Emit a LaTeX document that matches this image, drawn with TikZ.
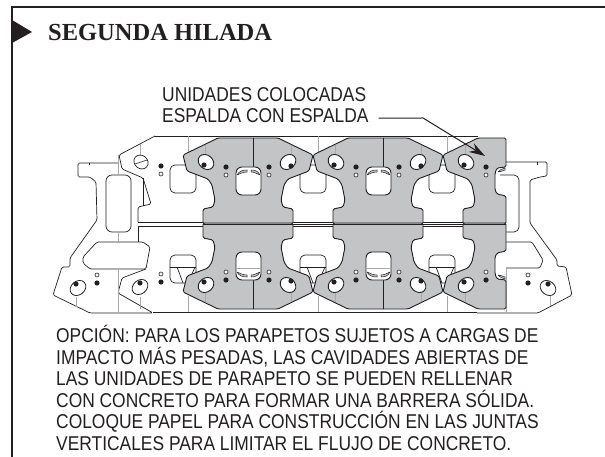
\documentclass[tikz,border=0pt]{standalone}
\usepackage{fontspec}
\setmainfont{Liberation Serif}
\newfontfamily\labelfont[FakeStretch=0.87]{Liberation Sans}
\usetikzlibrary{positioning,arrows.meta}
\definecolor{inkblack}{HTML}{231F20}
\definecolor{unitgray}{HTML}{C3C4C6}
\definecolor{seamgray}{HTML}{A8A9AB}
\tikzset{backline/.style={draw=inkblack,line width=0.7pt,rounded corners=1.5pt},
         seam/.style={draw=seamgray,line width=0.7pt},
         unitline/.style={draw=inkblack,line width=0.9pt,fill=unitgray,rounded corners=1.5pt},
         holeline/.style={draw=inkblack,line width=0.9pt,fill=white},
         labeltext/.style={font=\labelfont\fontsize{20}{20}\selectfont,text=inkblack,inner sep=0pt,text height=14.5pt,text depth=0pt},
         arrow/.style={line width=1pt,draw=inkblack,-{Stealth[length=16pt,width=10pt]}},
         mirrored/.style={yshift=-447pt,yscale=-1}
}
% holes of one half unit, left and right of its axis
\newcommand{\leftholes}{
    \draw[seam] (-43,145)--(-43,155);
    \draw[holeline,rotate around={-40:(-42,162)}] (-42,162) ellipse [x radius=8.5pt,y radius=6.8pt];
    \fill[inkblack] (-44,165) circle (2.6pt);
    \fill[inkblack] (-22,167) circle (2.6pt);
    \draw[holeline,line width=0.6pt] (-22,175) circle (2pt);
}
\newcommand{\rightholes}{
    \draw[seam] (43,145)--(43,155);
    \draw[holeline,rotate around={40:(40,162)}] (40,162) ellipse [x radius=8.5pt,y radius=6.8pt];
    \fill[inkblack] (43,166) circle (2.6pt);
    \fill[inkblack] (21,167) circle (2.6pt);
    \draw[holeline,line width=0.6pt] (21,175) circle (2pt);
}
\newcommand{\grayunit}{
    \draw[unitline] (-45,224)--(-45,209)--(-35,207)--(-33,200)--(-36,185)--(-40,179)--(-61,171)--(-65,155)
      --(-30,138)--(30,138)--(65,155)--(61,171)--(40,179)--(36,185)--(33,200)--(35,207)--(45,209)--(45,224)--cycle;
    \draw[inkblack,line width=0.7pt] (5,138)--(5,168);
    \draw[holeline,rounded corners=6pt] (-12,167) rectangle (13,195);
    \draw[inkblack,line width=0.5pt,fill=unitgray] (-11,175) .. controls (-9,171) and (-5,170) .. (-1,170) -- (-1,172) .. controls (-6,172) and (-8,174) .. (-11,175);
    \draw[inkblack,line width=0.5pt,fill=unitgray] (12,175) .. controls (10,171) and (7,170) .. (3,170) -- (3,172) .. controls (7,172) and (9,174) .. (12,175);
    \leftholes
    \rightholes
}
\newcommand{\lastunit}{
    \draw[unitline] (-45,224)--(-45,209)--(-35,207)--(-33,200)--(-36,185)--(-40,179)--(-61,171)--(-65,155)
      --(-30,138)--(-2,138)--(-2,167)--(-11,168)--(-13,173)--(-13,190)--(-11,194)--(-2,196)--(-2,224)--cycle;
    \draw[inkblack,line width=0.5pt,fill=unitgray] (-10,172) .. controls (-9,170) and (-6,169) .. (-3,168) -- (-3,170) .. controls (-6,171) and (-8,172) .. (-10,172);
    \leftholes
}

\begin{document}
\begin{tikzpicture}[x=1pt,y=-1pt]
\useasboundingbox (0,0) rectangle (605,457);

% frame
\draw[inkblack,line width=2pt] (605,7)--(12,7)--(12,457);
\fill[inkblack] (12,20)--(32,32)--(12,43)--cycle;
\node[font=\fontsize{24.5}{26}\bfseries\selectfont,text=inkblack,anchor=base west,inner sep=0pt] (title) at (48,41) {SEGUNDA HILADA};

% units behind
\draw[backline] (155,136)--(478,136);
\draw[backline] (153,312.5)--(477,312.5);
\draw[backline] (138,222)--(506,222);
\draw[backline] (138,226)--(506,226);
\draw[backline] (155,136)--(119,155)--(122,169)--(143,178)--(151,204)--(138,207)--(138,222);
\draw[backline] (143,178)--(143,206);
\draw[backline] (138,226)--(138,242);
\draw[backline] (119,163)--(78,163)--(78,177)--(90,177)--(96,182)--(97,220)--(70,258)--(70,267)--(62,267)--(53,295)--(90,313)--(153,313)--(118,293)--(122,278)--(146,269);
\draw[backline] (97,242)--(143,242)--(150,247)--(146,269)--(90,269)--(83,263)--(83,257)--cycle;
\draw[backline,rounded corners=6pt] (106,175) rectangle (131,232);
\draw[backline] (506,162)--(547,162)--(547,176)--(540,177)--(530,180)--(530,223)--(557,260)--(557,266)--(566,267)--(572,295)--(538,313)--(477,313);
\draw[backline] (506,242)--(532,242)--(543,260)--(540,268)--(506,268);
\draw[backline,rounded corners=5pt] (500,175)--(519,175)--(519,232)--(500,232);
\draw[inkblack,line width=0.6pt] (537,162)--(537,165);
\draw[inkblack,line width=0.6pt] (89,163)--(89,165);

\foreach \cx in {183,313,442}{
  \draw[backline,rounded corners=5pt] (\cx-13,165) rectangle (\cx+13,193);
  \draw[backline,rounded corners=5pt] (\cx-13,255) rectangle (\cx+13,283);
  \draw[backline,rounded corners=0pt] (\cx-13,267)--(\cx+13,267);
  \draw[backline,rounded corners=0pt] (\cx-6,267)--(\cx,283);
  \draw[backline,rounded corners=0pt] (\cx+12,267)--(\cx+5,283);
  \draw[seam] (\cx+5,136)--(\cx+5,152);
  \draw[seam] (\cx+5,296)--(\cx+5,312);
}
\draw[seam] (118,155)--(118,175);
\draw[seam] (118,232)--(118,242);
\draw[seam] (118,269)--(118,313);
\draw[seam] (76,297)--(76,307);
\draw[seam] (140,144)--(140,155);
\draw[seam] (140,297)--(140,309);
\draw[seam] (550,295)--(550,306);
\draw[seam] (506,268)--(506,312);

% holes of the units behind
\draw[holeline,line width=0.7pt,rotate around={-40:(141,162)}] (141,162) ellipse [x radius=7.5pt,y radius=6.5pt];
\draw[inkblack,line width=0.6pt] (135,164)--(147,160);
\fill[inkblack] (161,166) circle (2.6pt);
\draw[holeline,line width=0.6pt] (161,174) circle (2pt);
\draw[holeline,line width=0.8pt,rotate around={40:(78,288)}] (78,288) ellipse [x radius=8.5pt,y radius=6.8pt];
\fill[inkblack] (76,284) circle (2.6pt);
\fill[inkblack] (97,283) circle (2.6pt);
\draw[holeline,line width=0.6pt] (97,275) circle (2pt);
\draw[holeline,line width=0.8pt,rotate around={40:(140,287)}] (140,287) ellipse [x radius=8.5pt,y radius=6.8pt];
\fill[inkblack] (140,283) circle (2.6pt);
\fill[inkblack] (161,282) circle (2.6pt);
\draw[holeline,line width=0.6pt] (161,274) circle (2pt);
\draw[holeline,line width=0.8pt,rotate around={-40:(548,288)}] (548,288) ellipse [x radius=8.5pt,y radius=6.8pt];
\fill[inkblack] (548,284) circle (2.6pt);
\fill[inkblack] (528,283) circle (2.6pt);
\draw[holeline,line width=0.6pt] (528,275) circle (2pt);

% gray units
\foreach \cx in {248,378}{
  \begin{scope}[xshift=\cx pt]
    \grayunit
  \end{scope}
  \begin{scope}[xshift=\cx pt,mirrored]
    \grayunit
  \end{scope}
  \draw[seamgray,line width=0.5pt] (\cx-12,268)--(\cx+13,268);
}
\begin{scope}[xshift=508pt]
  \lastunit
\end{scope}
\begin{scope}[xshift=508pt,mirrored]
  \lastunit
\end{scope}
\draw[inkblack,line width=0.8pt] (203,224)--(506,224);

% labels
\node[labeltext,anchor=south west] (espalda) at (162,123) {ESPALDA CON ESPALDA};
\node[labeltext,above=6pt of espalda.north west,anchor=south west] (unidades) {UNIDADES COLOCADAS};
\coordinate (bend) at (423,118);
\coordinate (tip) at (485,156);
\draw[arrow] ([shift={(10pt,-2.5pt)}]espalda.east)--(bend)--(tip);

\node[labeltext,anchor=north west,align=left,text height=,text depth=,font=\labelfont\fontsize{20}{21.6}\selectfont] (opcion) at (56,325) {OPCIÓN: PARA LOS PARAPETOS SUJETOS A CARGAS DE\\
IMPACTO MÁS PESADAS, LAS CAVIDADES ABIERTAS DE\\
LAS UNIDADES DE PARAPETO SE PUEDEN RELLENAR\\
CON CONCRETO PARA FORMAR UNA BARRERA SÓLIDA.\\
COLOQUE PAPEL PARA CONSTRUCCIÓN EN LAS JUNTAS\\
VERTICALES PARA LIMITAR EL FLUJO DE CONCRETO.};

\end{tikzpicture}
\end{document}
